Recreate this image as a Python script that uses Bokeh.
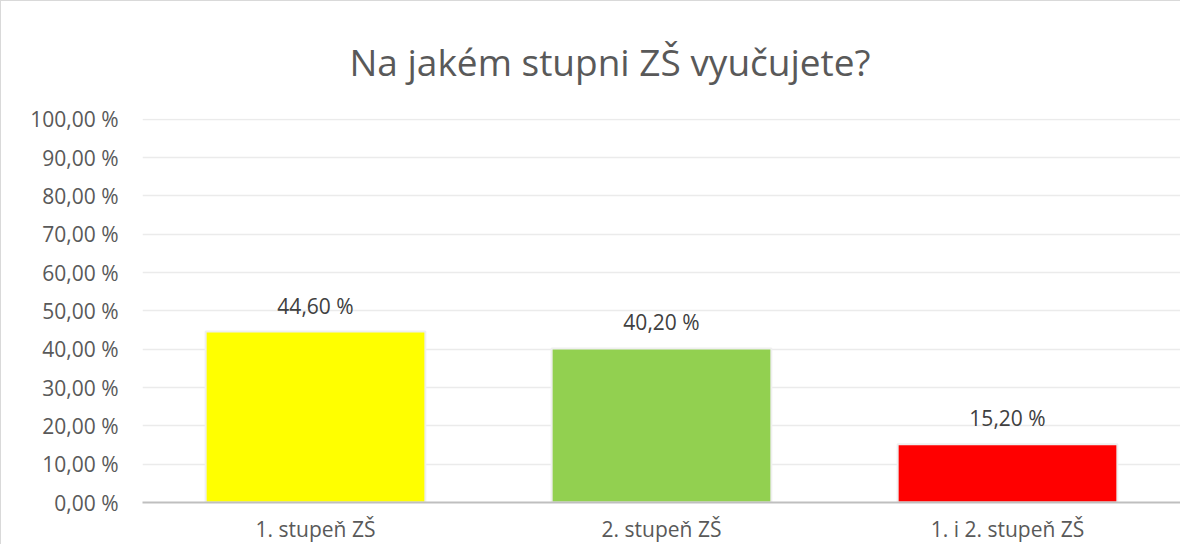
from bokeh.plotting import figure
from bokeh.models import ColumnDataSource, FixedTicker, FactorRange, Range1d
from bokeh.embed import file_html
from bokeh.resources import INLINE
from bokeh.core.properties import value

categories = ["1. stupeň ZŠ", "2. stupeň ZŠ", "1. i 2. stupeň ZŠ"]
shares = [44.6, 40.2, 15.2]
colors = ["#FFFF00", "#92D050", "#FF0000"]
label_texts = ["44,60 %", "40,20 %", "15,20 %"]
tick_values = [0, 10, 20, 30, 40, 50, 60, 70, 80, 90, 100]
tick_labels = ["0,00 %", "10,00 %", "20,00 %", "30,00 %", "40,00 %", "50,00 %",
               "60,00 %", "70,00 %", "80,00 %", "90,00 %", "100,00 %"]
title_text = "Na jakém stupni ZŠ vyučujete?"

FONT = "Open Sans"
TXT = "#595959"

src = ColumnDataSource(dict(cat=categories, val=shares, color=colors, lab=label_texts))

p = figure(x_range=FactorRange(*categories, range_padding=0), y_range=Range1d(0, 100.2),
           width=1180, height=544, output_backend="svg", toolbar_location=None,
           min_border_left=141, min_border_right=1, min_border_top=117, min_border_bottom=41)
p.styles = {"border-left": "1px solid #d9d9d9", "border-top": "1px solid #d9d9d9"}

p.title.text = title_text
p.title.align = "left"
p.title.offset = 207
p.title.standoff = 63
p.title.text_font = FONT
p.title.text_font_style = "normal"
p.title.text_font_size = "37px"
p.title.text_color = TXT

p.vbar(x="cat", top="val", width=0.635, source=src, fill_color="color",
       line_color="#EFEFEF", line_width=2)
p.text(x="cat", y="val", text="lab", source=src, text_align="center",
       text_baseline="bottom", y_offset=-12, text_font=value(FONT),
       text_font_size="21px", text_color="#404040")

p.outline_line_color = None
p.xgrid.grid_line_color = None
p.ygrid.grid_line_color = "#EBEBEB"
p.ygrid.grid_line_width = 1.5

p.yaxis.ticker = FixedTicker(ticks=tick_values)
p.yaxis.major_label_overrides = {v: s for v, s in zip(tick_values, tick_labels)}
p.yaxis.axis_line_color = None
p.yaxis.major_tick_line_color = None
p.yaxis.minor_tick_line_color = None
p.yaxis.major_label_text_font = FONT
p.yaxis.major_label_text_font_size = "21px"
p.yaxis.major_label_text_color = TXT
p.yaxis.major_label_standoff = 18

p.xaxis.axis_line_color = "#BFBFBF"
p.xaxis.axis_line_width = 2
p.xaxis.major_tick_line_color = None
p.xaxis.minor_tick_line_color = None
p.xaxis.major_label_text_font = FONT
p.xaxis.major_label_text_font_size = "21px"
p.xaxis.major_label_text_color = TXT
p.xaxis.major_label_text_line_height = 0.8
p.xaxis.major_label_standoff = 6

open("out.html", "w").write(file_html(p, INLINE))
